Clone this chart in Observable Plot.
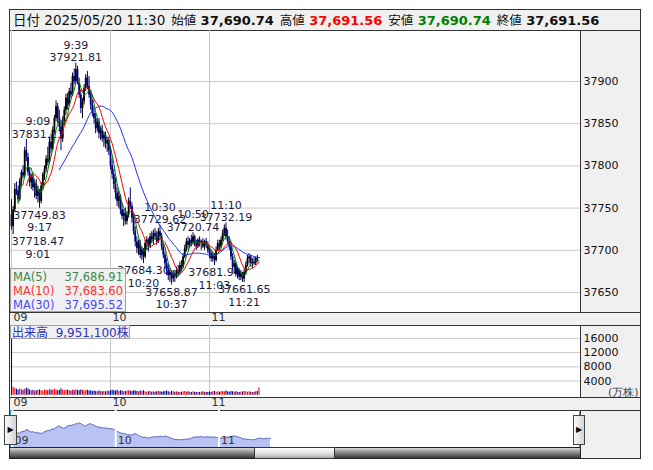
<!DOCTYPE html>
<html><head><meta charset="utf-8">
<script src="https://cdn.jsdelivr.net/npm/d3@7"></script>
<script src="https://cdn.jsdelivr.net/npm/@observablehq/plot@0.6"></script>
<style>
body{margin:0;background:#fff;font-family:"DejaVu Sans",sans-serif;}
#root{position:relative;width:653px;height:470px;overflow:hidden;background:#fff;}
.a{position:absolute;box-sizing:border-box;}
.j{font-family:"Noto Sans CJK JP",sans-serif;}
svg{display:block;}
</style></head><body><div id="root"></div>
<script>
// ---------- data ----------
const opens = [37742,37728,37748,37772,37770,37760,37782,37792,37788,37818,37810,37792,37780,37786,37774,37778,37764,37770,37758,37776,
37790,37796,37808,37804,37828,37820,37842,37856,37870,37856,37846,37832,37852,37866,37880,37872,37888,37884,37906,37900,
37914,37898,37884,37868,37876,37892,37904,37894,37884,37872,37862,37856,37844,37852,37838,37842,37832,37836,37826,37830,
37818,37800,37790,37778,37768,37758,37764,37748,37740,37744,37734,37742,37758,37752,37738,37722,37710,37702,37708,37694,
37700,37692,37708,37712,37704,37716,37712,37720,37716,37710,37722,37716,37704,37694,37684,37676,37670,37674,37666,37672,
37668,37676,37672,37682,37680,37692,37702,37710,37706,37712,37708,37716,37708,37704,37712,37708,37710,37704,37710,37706,
37700,37696,37690,37694,37688,37700,37708,37704,37712,37720,37726,37716,37710,37704,37692,37680,37684,37672,37676,37668,
37672,37666,37674,37682,37690,37692,37684,37686,37684,37690,37690.74];
const highs = [37760,37752,37779,37781,37776,37785,37795,37800,37822,37831.23,37815,37798,37790,37792,37782,37784,37776,37772,37780,37792,
37800,37812,37822,37834,37838,37846,37860,37877,37874,37866,37854,37858,37870,37885,37886,37892,37898,37910,37915,37921.81,
37918,37904,37890,37880,37896,37908,37912,37906,37890,37878,37870,37862,37856,37856,37846,37848,37840,37840,37834,37834,
37822,37808,37796,37786,37774,37770,37766,37756,37748,37750,37746,37762,37774,37756,37744,37728,37716,37712,37712,37704,
37702,37712,37716,37714,37720,37722,37724,37726,37722,37726,37729.62,37720,37708,37698,37690,37684,37678,37676,37676,37676,
37680,37682,37686,37688,37696,37706,37714,37716,37714,37718,37720.74,37718,37712,37714,37716,37712,37714,37712,37714,37710,
37704,37700,37698,37696,37704,37712,37712,37716,37724,37730,37732.19,37724,37716,37710,37696,37688,37686,37680,37678,37676,
37674,37678,37686,37694,37696,37694,37690,37692,37692,37694,37691.56];
const lows = [37724,37718.47,37745,37765,37756,37758,37776,37785,37786,37805,37788,37775,37772,37770,37762,37760,37756,37749.83,37755,37772,
37783,37792,37800,37802,37815,37818,37838,37852,37850,37840,37818,37828,37848,37860,37866,37870,37880,37882,37896,37898,
37896,37880,37862,37856,37872,37888,37890,37880,37866,37858,37850,37838,37840,37832,37830,37828,37822,37820,37816,37812,
37795,37784,37772,37760,37752,37750,37742,37736,37728,37730,37730,37738,37748,37732,37718,37704,37696,37694,37690,37688,
37684.30,37690,37700,37698,37702,37708,37706,37712,37706,37708,37712,37700,37690,37678,37670,37664,37662,37658.87,37662,37662,
37666,37668,37670,37674,37678,37690,37698,37700,37702,37704,37706,37704,37700,37702,37704,37700,37702,37700,37702,37696,
37690,37686,37686,37681.94,37686,37698,37700,37702,37710,37716,37712,37706,37700,37688,37676,37672,37668,37666,37664,37664,
37662,37661.65,37670,37680,37684,37680,37678,37682,37682,37686,37690.74];
const closes = [37728,37748,37772,37770,37760,37782,37792,37788,37818,37810,37792,37780,37786,37774,37778,37764,37770,37758,37776,37790,
37796,37808,37804,37828,37820,37842,37856,37870,37856,37846,37832,37852,37866,37880,37872,37888,37884,37906,37900,37914,
37898,37884,37868,37876,37892,37904,37894,37884,37872,37862,37856,37844,37852,37838,37842,37832,37836,37826,37830,37818,
37800,37790,37778,37768,37758,37764,37748,37740,37744,37734,37742,37758,37752,37738,37722,37710,37702,37708,37694,37700,
37692,37708,37712,37704,37716,37712,37720,37716,37710,37722,37716,37704,37694,37684,37676,37670,37674,37666,37672,37668,
37676,37672,37682,37680,37692,37702,37710,37706,37712,37708,37716,37708,37704,37712,37708,37710,37704,37710,37706,37700,
37696,37690,37694,37688,37700,37708,37704,37712,37720,37726,37716,37710,37704,37692,37680,37684,37672,37676,37668,37672,
37666,37674,37682,37690,37692,37684,37686,37684,37690,37688,37691.56];
// volume (万株) per minute, 9:00 .. 11:30
const volumes = [26000,2300,1900,1700,1500,1800,1600,1400,1700,2000,1800,1500,1300,1400,1200,1300,1400,1500,1300,1200,
1500,1400,1300,1600,1500,1400,1700,1500,1300,1400,1800,1400,1300,1500,1400,1300,1200,1500,1300,1600,
1400,1300,1500,1400,1200,1300,1400,1200,1300,1100,1200,1100,1000,1200,1100,1000,1100,1000,1200,1100,
1300,1400,1300,1200,1400,1100,1300,1200,1000,1100,1200,1300,1200,1100,1300,1200,1100,1000,1200,1100,
1300,1000,900,1000,1100,900,1000,900,1000,1100,1000,900,1000,1100,1200,1000,900,1100,1000,900,
1000,900,800,900,1000,1100,900,1000,900,800,1000,900,800,900,800,900,1000,800,900,800,
900,900,1000,1100,900,1000,900,1000,1100,1000,1200,1000,900,1100,1000,900,1000,900,800,900,
1000,1100,1000,900,1000,900,800,900,1000,1100,2100];
// annotated extremes (minutes after 9:00)
const markTimes  = [1,9,17,39,80,90,97,110,123,130,141];
const markPrices = [37718.47,37831.23,37749.83,37921.81,37684.30,37729.62,37658.87,37720.74,37681.94,37732.19,37661.65];
const markKinds  = ["low","high","low","high","low","high","low","high","low","high","low"];
const priceTicks = [37650,37700,37750,37800,37850,37900];
const volTicks = [4000,8000,12000,16000];
const hourTicks = [0,60,120];
const hourLabels = ["09","10","11"];
const maNames = ["MA(5)","MA(10)","MA(30)"];
const maValues = ["37,686.91","37,683.60","37,695.52"];
const maPeriods = [5,10,30];
const headerLabels = ["始値","高値","安値","終値"];
const headerValues = ["37,690.74","37,691.56","37,690.74","37,691.56"];
const headerDate = "2025/05/20 11:30";
const volumeLabel = ["出来高","9,951,100株"];
const volUnit = "(万株)";

// ---------- build ----------
const root = document.getElementById("root");
function div(css, html){const d=document.createElement("div");d.className="a";d.style.cssText=css;if(html)d.innerHTML=html;root.appendChild(d);return d;}
const fmtTime = t => `${9+Math.floor(t/60)}:${String(t%60).padStart(2,"0")}`;
const bars = closes.map((c,i)=>({t:i,o:opens[i],h:highs[i],l:lows[i],c,v:volumes[i],up:c>=opens[i]}));
const marks = markTimes.map((t,i)=>({t,p:markPrices[i],k:markKinds[i]}));
const font = {background:"transparent",fontFamily:"DejaVu Sans",fontSize:"11px",color:"#111",overflow:"visible"};
const xDom = [-0.606, 344.85];
const maColors = ["#008000","#ff0000","#1f2fff"];
const hourFmt = d=>hourLabels[hourTicks.indexOf(d)];

// backgrounds / panels
div("left:9px;top:9px;width:632px;height:450px;border:1px solid #333;background:#fff;");
div("left:580px;top:30px;width:61px;height:428px;background:#f0f0f0;border-left:1px solid #333;border-right:1px solid #333;");
div("left:9px;top:312px;width:632px;height:14px;background:#f0f0f0;border:1px solid #333;");
div("left:9px;top:397px;width:632px;height:14px;background:#f0f0f0;border:1px solid #333;");

// header
const hdr = div("left:9px;top:9px;width:632px;height:22px;background:#f0f0f0;border:1px solid #333;font-size:13.5px;line-height:18px;padding-left:3px;white-space:nowrap;color:#111;");
const vcol = ["#111","#ff0000","#008000","#111"];
hdr.innerHTML = `<span class="j">日付</span> ${headerDate}` + headerLabels.map((l,i)=>`<span class="j" style="font-size:12.5px;margin-left:6px">${l}</span> <b style="font-size:13px;color:${vcol[i]}">${headerValues[i]}</b>`).join("");

// main price chart
const maMarks = maPeriods.map((k,i)=>Plot.lineY(bars, Plot.windowY({k, anchor:"end", strict:true}, {x:"t", y:"c", stroke:maColors[i], strokeWidth:1})));
const main = Plot.plot({
  width:631, height:295, marginLeft:0, marginRight:61, marginTop:0, marginBottom:13,
  style:font,
  x:{type:"linear", domain:xDom},
  y:{domain:[37626.3, 37960.4]},
  color:{type:"identity"},
  marks:[
    Plot.gridY(priceTicks, {stroke:"#c8c8c8", strokeOpacity:1}),
    Plot.gridX(hourTicks, {stroke:"#c8c8c8", strokeOpacity:1}),
    Plot.axisY(priceTicks, {anchor:"right", label:null, tickSize:0, tickPadding:3, tickFormat:d=>String(d), fontSize:11}),
    Plot.axisX(hourTicks, {anchor:"bottom", label:null, tickSize:0, tickPadding:1, textAnchor:"start", dx:2, fill:"#333", tickFormat:hourFmt, fontSize:11}),
    Plot.text(marks.filter(d=>d.k==="high"), {x:d=>Math.max(d.t,16), y:"p", text:d=>`${fmtTime(d.t)}\n${d.p.toFixed(2)}`, lineAnchor:"bottom", dy:-2, fill:"#1a1a40", fontSize:11, lineHeight:1.12}),
    Plot.text(marks.filter(d=>d.k==="low"), {x:d=>Math.max(d.t,16), y:"p", text:d=>`${d.p.toFixed(2)}\n${fmtTime(d.t)}`, lineAnchor:"top", dy:2, fill:"#1a1a40", fontSize:11, lineHeight:1.12}),
    Plot.ruleX(bars, {x:"t", y1:"l", y2:"h", stroke:d=>d.up?"#000000":"#000080", strokeWidth:1}),
    Plot.ruleX(bars, {x:"t", y1:"o", y2:"c", stroke:d=>d.up?"#000000":"#000080", strokeWidth:1.8}),
    ...maMarks.reverse()
  ]
});
const mainBox = div("left:10px;top:30px;width:631px;height:295px;");
mainBox.appendChild(main);

// MA legend
const leg = div("left:10px;top:268px;width:116px;height:44px;background:rgba(240,240,240,0.9);border:1px solid #a0a0a0;font-size:11.5px;line-height:14px;padding:1px 2px 0 2px;");
const legCol = ["#3a8a4a","#ff3030","#4848ff"];
leg.innerHTML = maNames.map((n,i)=>`<div style="display:flex;justify-content:space-between;color:${legCol[i]}"><span>${n}</span><span>${maValues[i]}</span></div>`).join("");

// volume chart
const vol = Plot.plot({
  width:631, height:85, marginLeft:0, marginRight:61, marginTop:0, marginBottom:13,
  style:font,
  x:{type:"linear", domain:xDom},
  y:{domain:[-600, 19600]},
  color:{type:"identity"},
  marks:[
    Plot.gridY(volTicks, {stroke:"#c8c8c8", strokeOpacity:1}),
    Plot.gridX(hourTicks, {stroke:"#c8c8c8", strokeOpacity:1}),
    Plot.axisY(volTicks, {anchor:"right", label:null, tickSize:0, tickPadding:3, tickFormat:d=>String(d), fontSize:11}),
    Plot.axisX(hourTicks, {anchor:"bottom", label:null, tickSize:0, tickPadding:1, textAnchor:"start", dx:2, fill:"#333", tickFormat:hourFmt, fontSize:11}),
    Plot.ruleX(bars, {x:"t", y1:0, y2:"v", stroke:d=>d.up?"#ff0000":"#0000a0", strokeWidth:1.1, clip:true}),
    Plot.text([volUnit], {frameAnchor:"bottom-right", text:d=>d, dx:58, dy:-2, textAnchor:"end", lineAnchor:"bottom", fill:"#444", fontSize:11})
  ]
});
const volBox = div("left:10px;top:325px;width:631px;height:85px;");
volBox.appendChild(vol);
div("left:10px;top:325px;width:120px;height:14px;background:#f0f0f0;border:1px solid #a0a0a0;color:#3030c0;font-size:12px;line-height:12px;padding-left:1px;white-space:nowrap;",
  `<span class="j">${volumeLabel[0]}</span>&nbsp;&nbsp;${volumeLabel[1].replace("株","<span class='j'>株</span>")}`);

// navigator
const nav = Plot.plot({
  width:570, height:37, marginLeft:0, marginRight:0, marginTop:0, marginBottom:0,
  style:{...font, overflow:"hidden"},
  x:{type:"linear", domain:[-1.16, 330.2], axis:null},
  y:{domain:[37556, 38096], axis:null},
  marks:[
    Plot.areaY(bars, {x:"t", y:"c", fill:"#b8c3f3", clip:true}),
    Plot.lineY(bars, {x:"t", y:"c", stroke:"#6670c0", strokeWidth:1}),
    Plot.ruleX(hourTicks, {x:d=>d, stroke:"#fff", strokeWidth:2}),
    Plot.text(hourTicks, {x:d=>d, text:hourFmt, frameAnchor:"bottom", textAnchor:"start", lineAnchor:"bottom", dx:2, dy:-4, fill:"#333", fontSize:11})
  ]
});
const navBox = div("left:10px;top:410px;width:570px;height:37px;overflow:hidden;");
navBox.appendChild(nav);
div("left:10px;top:410px;width:1px;height:37px;background:#29a3d6;");
div("left:579px;top:410px;width:1px;height:37px;background:#29a3d6;");
const btn = "height:30px;top:415px;background:linear-gradient(to right,#fafafa,#d4d4d4);border:1px solid #444;font-size:8px;line-height:28px;text-align:center;color:#000;";
div("left:4px;width:13px;"+btn, "&#9654;");
div("left:573px;width:12px;"+btn, "&#9654;");
// scrollbar
div("left:9px;top:447px;width:572px;height:12px;background:linear-gradient(to bottom,#d8d8d8,#8a8a8a 45%,#3a3a3a);border:1px solid #222;");
div("left:254px;top:447px;width:81px;height:12px;background:linear-gradient(to bottom,#ffffff,#dcdcdc 60%,#a8a8a8);border:1px solid #333;");
</script></body></html>
